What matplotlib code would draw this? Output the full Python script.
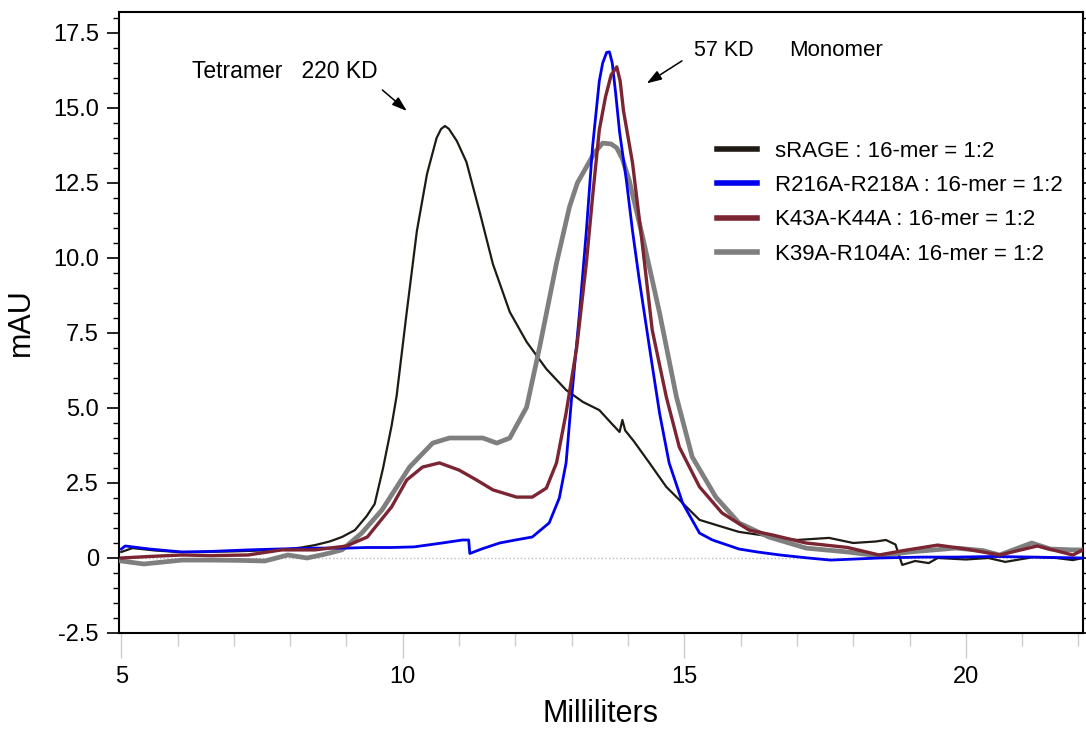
import numpy as np
import matplotlib
matplotlib.use('Agg')
import matplotlib.pyplot as plt
from matplotlib.ticker import MultipleLocator, FuncFormatter

plt.rcParams['font.family'] = ['Liberation Sans', 'DejaVu Sans']

# --- data ---
srage_x = [5.0, 5.2, 5.6, 6.0, 6.4, 7.0, 7.5, 7.85, 8.2, 8.44, 8.7, 8.92, 9.15, 9.36, 9.5, 9.65,
           9.8, 9.89, 10.07, 10.25, 10.43, 10.6, 10.68, 10.75, 10.82, 10.96, 11.13, 11.37, 11.6,
           11.9, 12.2, 12.55, 12.9, 13.2, 13.49, 13.7, 13.85, 13.9, 13.95, 14.1, 14.38, 14.68,
           14.97, 15.27, 15.74, 15.97, 16.6, 17.0, 17.57, 18.0, 18.4, 18.58, 18.75, 18.87, 19.1,
           19.34, 19.5, 20.0, 20.4, 20.7, 21.2, 21.6, 21.9, 22.08]
srage_y = [0.2, 0.33, 0.25, 0.2, 0.2, 0.22, 0.25, 0.27, 0.35, 0.43, 0.55, 0.7, 0.93, 1.4, 1.8, 3.0,
           4.4, 5.4, 8.2, 10.9, 12.8, 14.0, 14.3, 14.4, 14.3, 13.9, 13.2, 11.5, 9.8,
           8.2, 7.2, 6.3, 5.6, 5.2, 4.93, 4.5, 4.2, 4.6, 4.25, 3.9, 3.17, 2.37,
           1.83, 1.27, 1.0, 0.87, 0.7, 0.6, 0.67, 0.5, 0.55, 0.6, 0.45, -0.23, -0.1,
           -0.17, 0.0, -0.05, 0.0, -0.13, 0.03, 0.0, -0.07, 0.0]

r216_x = [5.0, 5.07, 5.5, 6.08, 6.6, 7.25, 7.8, 8.44, 9.0, 9.36, 9.8, 10.2, 10.7, 11.06, 11.17,
          11.19, 11.4, 11.72, 12.0, 12.3, 12.6, 12.78, 12.9, 13.0, 13.14, 13.26, 13.37, 13.49,
          13.55, 13.62, 13.67, 13.72, 13.78, 13.85, 13.97, 14.08, 14.2, 14.38, 14.56, 14.73,
          14.97, 15.27, 15.5, 15.97, 16.3, 16.7, 17.2, 17.6, 18.46, 19.2, 19.82, 20.5, 21.2, 22.08]
r216_y = [0.3, 0.4, 0.3, 0.2, 0.22, 0.27, 0.3, 0.33, 0.33, 0.35, 0.35, 0.37, 0.5, 0.6, 0.6,
          0.15, 0.3, 0.5, 0.6, 0.7, 1.17, 2.0, 3.17, 5.37, 8.2, 10.9, 13.7, 15.9,
          16.5, 16.85, 16.87, 16.5, 15.5, 14.2, 12.6, 10.9, 9.27, 7.03, 4.83, 3.17,
          1.83, 0.83, 0.6, 0.3, 0.2, 0.1, 0.0, -0.07, 0.0, 0.03, 0.03, 0.05, 0.03, 0.0]

k43_x = [5.0, 5.5, 6.08, 6.6, 7.25, 7.85, 8.44, 9.0, 9.37, 9.8, 10.07, 10.35, 10.65, 11.0, 11.31,
         11.6, 12.02, 12.3, 12.55, 12.73, 12.9, 13.09, 13.26, 13.37, 13.49, 13.6, 13.7, 13.8,
         13.86, 13.92, 14.08, 14.26, 14.43, 14.68, 14.91, 15.27, 15.67, 16.15, 16.56, 17.16,
         17.9, 18.46, 18.9, 19.5, 20.0, 20.6, 21.27, 21.9, 22.08]
k43_y = [0.0, 0.05, 0.1, 0.08, 0.1, 0.27, 0.27, 0.4, 0.7, 1.7, 2.6, 3.03, 3.17, 2.93, 2.6,
         2.27, 2.03, 2.03, 2.33, 3.17, 4.83, 7.03, 9.83, 12.03, 14.27, 15.37, 16.1, 16.37,
         15.9, 14.9, 13.17, 10.37, 7.6, 5.37, 3.7, 2.37, 1.5, 0.93, 0.77, 0.5,
         0.35, 0.1, 0.25, 0.43, 0.3, 0.1, 0.4, 0.1, 0.27]

k39_x = [5.0, 5.4, 6.08, 6.6, 7.1, 7.55, 7.96, 8.3, 8.6, 8.92, 9.27, 9.63, 10.12, 10.53, 10.83,
         11.42, 11.67, 11.9, 12.2, 12.43, 12.73, 12.96, 13.1, 13.26, 13.4, 13.55, 13.7, 13.8,
         13.9, 14.02, 14.26, 14.56, 14.86, 15.14, 15.56, 15.97, 16.5, 17.16, 17.9, 18.46,
         19.0, 19.82, 20.3, 20.6, 21.17, 21.5, 21.9, 22.08]
k39_y = [-0.1, -0.2, -0.07, -0.07, -0.08, -0.1, 0.1, 0.0, 0.12, 0.27, 0.83, 1.6, 3.03, 3.83, 4.0,
         4.0, 3.83, 4.0, 5.03, 7.03, 9.83, 11.7, 12.5, 13.03, 13.5, 13.83, 13.8, 13.67,
         13.3, 12.6, 10.7, 8.17, 5.37, 3.37, 2.03, 1.17, 0.7, 0.33, 0.2, 0.07,
         0.2, 0.33, 0.25, 0.1, 0.5, 0.3, 0.27, 0.27]

labels = ['sRAGE : 16-mer = 1:2', 'R216A-R218A : 16-mer = 1:2',
          'K43A-K44A : 16-mer = 1:2', 'K39A-R104A: 16-mer = 1:2']
colors = ['#1e1a14', '#0000ee', '#7b2532', '#7f7f7f']
widths = [1.6, 2.0, 2.4, 3.4]

# --- figure ---
fig = plt.figure(figsize=(10.86, 7.44), dpi=100)
ax = fig.add_axes([0.1096, 0.1492, 0.8876, 0.8347])

ax.axhline(0, color='#bbbbbb', linestyle=':', linewidth=1, zorder=1)

l_srage, = ax.plot(srage_x, srage_y, color=colors[0], lw=widths[0], zorder=2)
l_k39, = ax.plot(k39_x, k39_y, color=colors[3], lw=widths[3], zorder=3)
l_r216, = ax.plot(r216_x, r216_y, color=colors[1], lw=widths[1], zorder=4)
l_k43, = ax.plot(k43_x, k43_y, color=colors[2], lw=widths[2], zorder=5)

ax.set_xlim(4.96, 22.08)
ax.set_ylim(-2.5, 18.2)

# y axis
ax.yaxis.set_major_locator(MultipleLocator(2.5))
ax.yaxis.set_minor_locator(MultipleLocator(0.5))
ax.yaxis.set_major_formatter(FuncFormatter(lambda v, _: '0' if abs(v) < 1e-9 else f'{v:.1f}'))
ax.tick_params(axis='y', which='major', direction='out', length=8.5, width=1.2,
               labelsize=17, right=True, pad=6)
ax.tick_params(axis='y', which='minor', direction='out', length=4, width=1.0, right=True)

# x axis
ax.xaxis.set_major_locator(MultipleLocator(5))
ax.xaxis.set_minor_locator(MultipleLocator(1))
ax.tick_params(axis='x', which='major', direction='out', length=18, width=1.0,
               color='#cccccc', labelsize=17, pad=6)
ax.tick_params(axis='x', which='minor', direction='out', length=9, width=1.0, color='#cccccc')
for t in ax.xaxis.get_major_ticks():
    if abs(t.get_loc() - 5) < 1e-9:
        t.tick1line.set_color('black')
        t.tick1line.set_markeredgewidth(1.5)

for s in ax.spines.values():
    s.set_linewidth(1.5)

ax.set_xlabel('Milliliters', fontsize=22, labelpad=8)
ax.set_ylabel('mAU', fontsize=22, labelpad=12)

# annotations
ax.text(6.25, 16.2, 'Tetramer   220 KD', fontsize=16.5, ha='left', va='center')
ax.annotate('', xy=(10.11, 14.84), xytext=(9.6, 15.66),
            arrowprops=dict(arrowstyle='-|>,head_length=0.9,head_width=0.3', color='black', lw=1.1))
ax.text(15.18, 16.93, '57 KD', fontsize=15.5, ha='left', va='center')
ax.text(16.86, 16.93, 'Monomer', fontsize=16, ha='left', va='center')
ax.annotate('', xy=(14.29, 15.77), xytext=(15.0, 16.62),
            arrowprops=dict(arrowstyle='-|>,head_length=0.9,head_width=0.3', color='black', lw=1.1))

leg = ax.legend([l_srage, l_r216, l_k43, l_k39], labels, loc='upper left',
                bbox_to_anchor=(0.6, 0.825), frameon=False, fontsize=16,
                handlelength=1.8, handletextpad=0.8, labelspacing=0.6)
for h in leg.get_lines():
    h.set_linewidth(4)

fig.savefig('out.png', dpi=100)
